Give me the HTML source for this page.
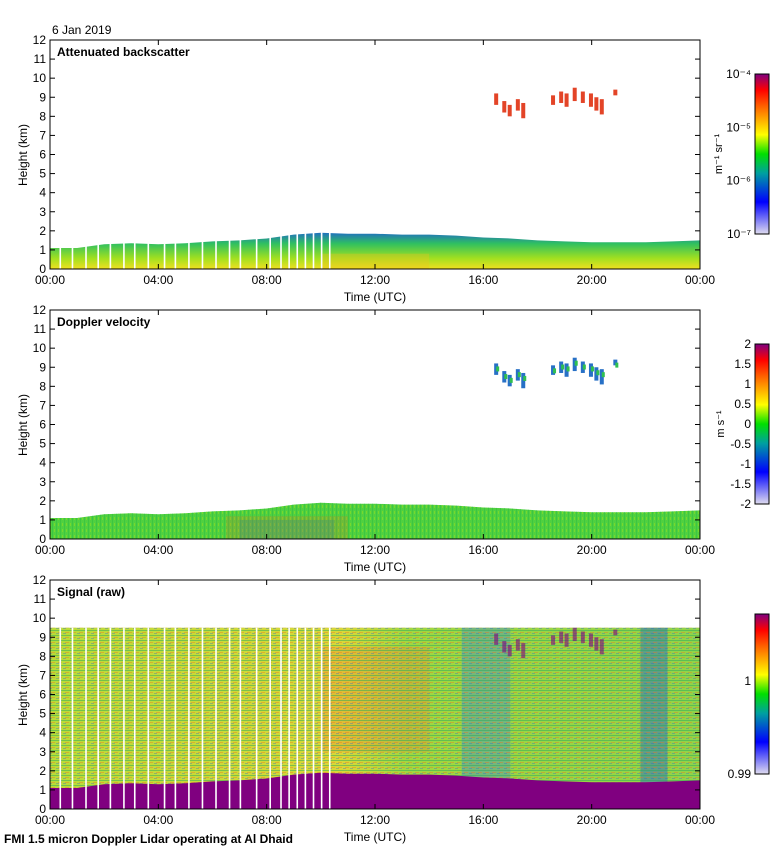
<!DOCTYPE html>
<html><head><meta charset="utf-8"><style>
body{margin:0;background:#fff;}
svg{display:block;font-family:"Liberation Sans",sans-serif;}
</style></head><body>
<svg id="chart" width="780" height="850" viewBox="0 0 780 850">
<defs>
<linearGradient id="cbBack" x1="0" y1="1" x2="0" y2="0">
<stop offset="0" stop-color="#e0dcef"/><stop offset="0.2" stop-color="#0000ff"/><stop offset="0.38" stop-color="#00a0a0"/><stop offset="0.5" stop-color="#00e000"/><stop offset="0.62" stop-color="#ffff00"/><stop offset="0.8" stop-color="#ff6000"/><stop offset="0.9" stop-color="#ff0000"/><stop offset="1" stop-color="#800080"/>
</linearGradient>
<linearGradient id="blGrad" x1="0" y1="1" x2="0" y2="0">
<stop offset="0" stop-color="#f0e020"/><stop offset="0.3" stop-color="#a0e020"/><stop offset="0.7" stop-color="#30c060"/><stop offset="1" stop-color="#2070c0"/>
</linearGradient>
<linearGradient id="sigGrad" x1="0" y1="0" x2="1" y2="0">
<stop offset="0" stop-color="#b8dc38"/><stop offset="0.45" stop-color="#d8d838"/><stop offset="0.55" stop-color="#a0d840"/><stop offset="1" stop-color="#90d448"/>
</linearGradient>
<pattern id="stripes" width="7" height="5" patternUnits="userSpaceOnUse">
<rect x="0" y="0" width="7" height="1" fill="#2aa860" opacity="0.5"/>
<rect x="2" y="2" width="4" height="1" fill="#f07020" opacity="0.4"/>
<rect x="0" y="3" width="3" height="1" fill="#3060d0" opacity="0.35"/>
</pattern>
<pattern id="dopStripes" width="4" height="6" patternUnits="userSpaceOnUse">
<rect x="0" y="0" width="1" height="6" fill="#30c040" opacity="0.6"/>
<rect x="2" y="1" width="1" height="3" fill="#90e020" opacity="0.6"/>
</pattern>
</defs>
<g id="panels"></g>
<text x="52" y="34" font-size="12">6 Jan 2019</text>
<text x="4" y="843" font-size="12" font-weight="bold">FMI 1.5 micron Doppler Lidar operating at Al Dhaid</text>
</svg>
<script>
// ---- data ----
const blHours = [0,1,2,3,4,5,6,7,8,9,10,11,12,13,14,15,16,17,18,19,20,21,22,23,24];
const blTop = [1.1,1.1,1.3,1.35,1.3,1.35,1.45,1.5,1.6,1.8,1.9,1.85,1.85,1.8,1.8,1.75,1.65,1.6,1.5,1.45,1.4,1.4,1.4,1.45,1.5];
const gapHours = [0.35,0.8,1.3,1.75,2.2,2.7,3.1,3.6,4.2,4.6,5.1,5.6,6.1,6.6,7.0,7.6,8.1,8.5,8.8,9.1,9.4,9.7,10.0,10.3];
const cloudHours = [16.4,16.7,16.9,17.2,17.4,18.5,18.8,19.0,19.3,19.6,19.9,20.1,20.3,20.8];
const cloudBase = [8.6,8.2,8.0,8.3,7.9,8.6,8.7,8.5,8.8,8.7,8.5,8.3,8.1,9.1];
const cloudTopH = [9.2,8.8,8.6,8.9,8.7,9.1,9.3,9.2,9.5,9.3,9.2,9.0,8.9,9.4];
const xTicks = ["00:00","04:00","08:00","12:00","16:00","20:00","00:00"];
const yTicks = [0,1,2,3,4,5,6,7,8,9,10,11,12];
const signalTop = 9.5;

const NS="http://www.w3.org/2000/svg";
const root=document.getElementById('panels');
const X0=50,X1=700;
function xs(h){return X0+h*(X1-X0)/24;}
function mk(tag,attrs,parent){const e=document.createElementNS(NS,tag);for(const k in attrs)e.setAttribute(k,attrs[k]);(parent||root).appendChild(e);return e;}

const panels=[
 {top:40,title:"Attenuated backscatter",kind:"back"},
 {top:310,title:"Doppler velocity",kind:"dop"},
 {top:580,title:"Signal (raw)",kind:"sig"}];

panels.forEach((p,pi)=>{
 const bot=p.top+229;
 const ys=v=>bot-v*229/12;
 const g=mk('g',{});
 
 
 let pts=blHours.map((h,i)=>xs(h)+','+ys(blTop[i])).join(' ');
 pts=xs(0)+','+ys(0)+' '+pts+' '+xs(24)+','+ys(0);
 if(p.kind==='sig'){
   const f=mk('rect',{x:X0,y:ys(signalTop),width:X1-X0,height:ys(0)-ys(signalTop),fill:'url(#sigGrad)'},g);
   
   mk('rect',{x:xs(10),y:ys(8.5),width:xs(14)-xs(10),height:ys(3)-ys(8.5),fill:'#f08030',opacity:0.3},g);
   mk('rect',{x:xs(15.2),y:ys(signalTop),width:xs(17)-xs(15.2),height:ys(1)-ys(signalTop),fill:'#3a8ad0',opacity:0.4},g);
   mk('rect',{x:xs(21.8),y:ys(signalTop),width:xs(22.8)-xs(21.8),height:ys(1)-ys(signalTop),fill:'#2060d0',opacity:0.45},g);
   mk('rect',{x:X0,y:ys(signalTop),width:X1-X0,height:ys(0)-ys(signalTop),fill:'url(#stripes)'},g);
   const b=mk('polygon',{points:pts,fill:'#800080'},g);
   
 } else if(p.kind==='back'){
   const b=mk('polygon',{points:pts,fill:'url(#blGrad)'},g);
   
   mk('rect',{x:xs(10),y:ys(0.8),width:xs(14)-xs(10),height:ys(0)-ys(0.8),fill:'#f0c020',opacity:0.35},g);
 } else {
   const b=mk('polygon',{points:pts,fill:'#50d040'},g);
   
   mk('polygon',{points:pts,fill:'url(#dopStripes)'},g);
   mk('rect',{x:xs(6.5),y:ys(1.2),width:xs(11)-xs(6.5),height:ys(0)-ys(1.2),fill:'#e07020',opacity:0.2},g);
   mk('rect',{x:xs(7),y:ys(1.0),width:xs(10.5)-xs(7),height:ys(0)-ys(1.0),fill:'#2050d0',opacity:0.15},g);
 }
 const cc=p.kind==='back'?'#e03010':p.kind==='dop'?'#1060c0':'#800080';
 cloudHours.forEach((h,i)=>{
   const c=mk('rect',{x:xs(h),y:ys(cloudTopH[i]),width:4,height:ys(cloudBase[i])-ys(cloudTopH[i]),fill:cc,opacity:p.kind==='sig'?0.6:0.9},g);
   
   if(p.kind==='dop') mk('rect',{x:xs(h)+2,y:ys(cloudTopH[i])+3,width:3,height:5,fill:'#30c050'},g);
 });
 if(p.kind!=='dop') gapHours.forEach(h=>{
   const l=mk('rect',{x:xs(h),y:ys(p.kind==='sig'?signalTop:2.2),width:1.6,height:ys(0)-ys(p.kind==='sig'?signalTop:2.2),fill:'#fff'},g);
   
 });
 const fr=mk('rect',{x:X0,y:p.top,width:X1-X0,height:229,fill:'none',stroke:'#000','stroke-width':1},g);
 
 yTicks.forEach(v=>{
   mk('line',{x1:X0,x2:X0+5,y1:ys(v),y2:ys(v),stroke:'#000'},g);
   mk('line',{x1:X1-5,x2:X1,y1:ys(v),y2:ys(v),stroke:'#000'},g);
   const t=mk('text',{x:X0-4,y:ys(v)+4,'font-size':12,'text-anchor':'end'},g);t.textContent=v;
   
 });
 xTicks.forEach((s,i)=>{
   const x=xs(i*4);
   mk('line',{x1:x,x2:x,y1:bot-5,y2:bot,stroke:'#000'},g);
   mk('line',{x1:x,x2:x,y1:p.top,y2:p.top+5,stroke:'#000'},g);
   const t=mk('text',{x:x,y:bot+15,'font-size':12,'text-anchor':'middle'},g);t.textContent=s;
   
 });
 const xt=mk('text',{x:375,y:bot+32,'font-size':12,'text-anchor':'middle'},g);xt.textContent='Time (UTC)';
 
 const yt=mk('text',{x:0,y:0,'font-size':12,'text-anchor':'middle',transform:`translate(27,${p.top+115}) rotate(-90)`},g);yt.textContent='Height (km)';
 
 const tt=mk('text',{x:57,y:p.top+16,'font-size':12,'font-weight':'bold'},g);tt.textContent=p.title;
 
 const cbTop=p.top+34,cbH=160,cbX=755;
 const cb=mk('rect',{x:cbX,y:cbTop,width:14,height:cbH,fill:'url(#cbBack)',stroke:'#000'},g);
 
 let labs;
 if(p.kind==='back') labs=[['10⁻⁴',0],['10⁻⁵',1/3],['10⁻⁶',2/3],['10⁻⁷',1]];
 else if(p.kind==='dop') labs=[['2',0],['1.5',1/8],['1',2/8],['0.5',3/8],['0',4/8],['-0.5',5/8],['-1',6/8],['-1.5',7/8],['-2',1]];
 else labs=[['1',0.42],['0.99',1]];
 labs.forEach(([s,f])=>{
   const t=mk('text',{x:cbX-4,y:cbTop+f*cbH+4,'font-size':12,'text-anchor':'end'},g);t.textContent=s;
   
 });
 if(p.kind!=='sig'){
   const u=mk('text',{x:0,y:0,'font-size':11,'text-anchor':'middle',transform:`translate(${p.kind==='back'?722:724},${cbTop+80}) rotate(-90)`},g);
   u.textContent=p.kind==='back'?'m⁻¹ sr⁻¹':'m s⁻¹';
   
 }
});
</script>
</body></html>
